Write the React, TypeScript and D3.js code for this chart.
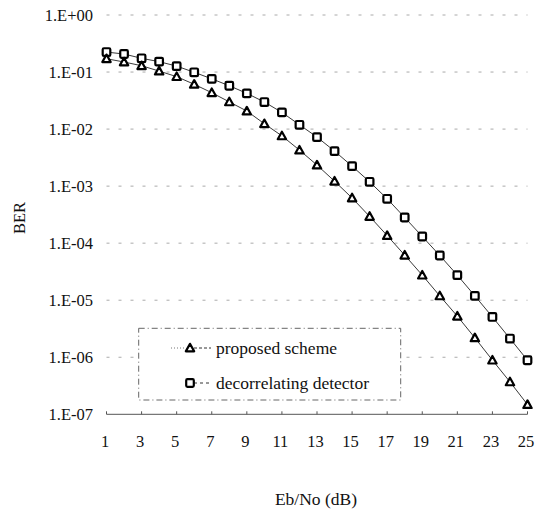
import * as d3 from "d3";

// Eb/No in dB
const ebno = d3.range(1, 26);
const xTickVals = [1, 3, 5, 7, 9, 11, 13, 15, 17, 19, 21, 23, 25];
const yTickVals = [1, 1e-1, 1e-2, 1e-3, 1e-4, 1e-5, 1e-6, 1e-7];
const yTickLabels = ["1.E+00", "1.E-01", "1.E-02", "1.E-03", "1.E-04", "1.E-05", "1.E-06", "1.E-07"];

const proposed = [
  0.171, 0.15, 0.129, 0.104, 0.083, 0.061, 0.0434, 0.03, 0.0207, 0.0124, 0.0076, 0.00428, 0.00234,
  0.00122, 6.2e-4, 2.94e-4, 1.36e-4, 6.16e-5, 2.75e-5, 1.19e-5, 5.25e-6, 2.19e-6, 8.9e-7, 3.7e-7,
  1.48e-7,
];
const decorrelating = [
  0.224, 0.207, 0.174, 0.152, 0.127, 0.099, 0.076, 0.0575, 0.0423, 0.0298, 0.0196, 0.0119, 0.00724,
  0.00411, 0.00224, 0.00119, 6.0e-4, 2.82e-4, 1.31e-4, 6.08e-5, 2.75e-5, 1.19e-5, 5.09e-6, 2.13e-6,
  8.86e-7,
];

const W = 540;
const H = 511;
const font = '"Liberation Serif", "DejaVu Serif", serif';

function Triangle({ cx, cy }: { cx: number; cy: number }) {
  const s = 4.2;
  return (
    <path
      d={`M${cx},${cy - s} L${cx + s},${cy + s * 0.8} L${cx - s},${cy + s * 0.8} Z`}
      fill="#fff"
      stroke="#000"
      strokeWidth={2.2}
      strokeLinejoin="round"
    />
  );
}

function Square({ cx, cy }: { cx: number; cy: number }) {
  const s = 3.8;
  return (
    <rect x={cx - s} y={cy - s} width={2 * s} height={2 * s} rx={1.2} fill="#fff" stroke="#000" strokeWidth={2.2} />
  );
}

export default function App() {
  const x = d3.scaleLinear().domain([1, 25]).range([106.5, 527.5]);
  const y = d3.scaleLog().domain([1e-7, 1]).range([414.3, 15]);

  const line = d3
    .line<number>()
    .x((_, i) => x(ebno[i]))
    .y((d) => y(d));

  // legend box
  const lg = { x0: 138.7, y0: 328.3, x1: 400.7, y1: 400 };

  return (
    <svg
      width={W}
      height={H}
      style={{ position: "absolute", left: 0, top: 0, background: "#fff", fontFamily: font }}
    >
      {/* gridlines */}
      {yTickVals.slice(0, -1).map((t) => (
        <line
          key={`g-${t}`}
          x1={x(1)}
          x2={x(25)}
          y1={y(t)}
          y2={y(t)}
          stroke="#aaa"
          strokeWidth={1}
          strokeDasharray="3 9"
        />
      ))}

      {/* bottom axis */}
      <line x1={x(1)} x2={x(25)} y1={y(1e-7)} y2={y(1e-7)} stroke="#555" strokeWidth={1} />
      {xTickVals.map((t) => (
        <line key={`xt-${t}`} x1={x(t)} x2={x(t)} y1={y(1e-7)} y2={y(1e-7) - 3} stroke="#555" strokeWidth={1} />
      ))}

      {/* y labels */}
      {yTickVals.map((t, i) => (
        <text key={`yl-${t}`} x={93} y={y(t)} dy="0.35em" textAnchor="end" fontSize={16.5} fill="#111" style={{ fontFamily: font }}>
          {yTickLabels[i]}
        </text>
      ))}
      {/* x labels */}
      {xTickVals.map((t) => (
        <text key={`xl-${t}`} x={x(t) - 1.5} y={447} textAnchor="middle" fontSize={16.5} fill="#111" style={{ fontFamily: font }}>
          {t}
        </text>
      ))}

      {/* axis titles */}
      <text x={316} y={505} textAnchor="middle" fontSize={17.5} fill="#111" style={{ fontFamily: font }}>
        Eb/No (dB)
      </text>
      <text transform="translate(25,218) rotate(-90)" textAnchor="middle" fontSize={16.5} fill="#111" style={{ fontFamily: font }}>
        BER
      </text>

      {/* series */}
      <path d={line(decorrelating) ?? ""} fill="none" stroke="#222" strokeWidth={0.9} />
      <path d={line(proposed) ?? ""} fill="none" stroke="#222" strokeWidth={0.9} />
      {decorrelating.map((v, i) => (
        <Square key={`s-${i}`} cx={x(ebno[i])} cy={y(v)} />
      ))}
      {proposed.map((v, i) => (
        <Triangle key={`t-${i}`} cx={x(ebno[i])} cy={y(v)} />
      ))}

      {/* legend */}
      <rect
        x={lg.x0}
        y={lg.y0}
        width={lg.x1 - lg.x0}
        height={lg.y1 - lg.y0}
        fill="#fff"
        stroke="#666"
        strokeWidth={1}
        strokeDasharray="6 3 1 3"
      />
      <line x1={171} x2={186} y1={348} y2={348} stroke="#777" strokeWidth={1} strokeDasharray="1 2" />
      <line x1={194} x2={211} y1={348} y2={348} stroke="#333" strokeWidth={1} strokeDasharray="3 2" />
      <Triangle cx={190} cy={348} />
      <text x={216} y={348} dy="0.35em" fontSize={17.5} fill="#111" style={{ fontFamily: font }}>
        proposed scheme
      </text>
      <line x1={194} x2={209} y1={383} y2={383} stroke="#333" strokeWidth={1} strokeDasharray="3 3" />
      <Square cx={190} cy={383} />
      <text x={216} y={383} dy="0.35em" fontSize={17.5} fill="#111" style={{ fontFamily: font }}>
        decorrelating detector
      </text>
    </svg>
  );
}
